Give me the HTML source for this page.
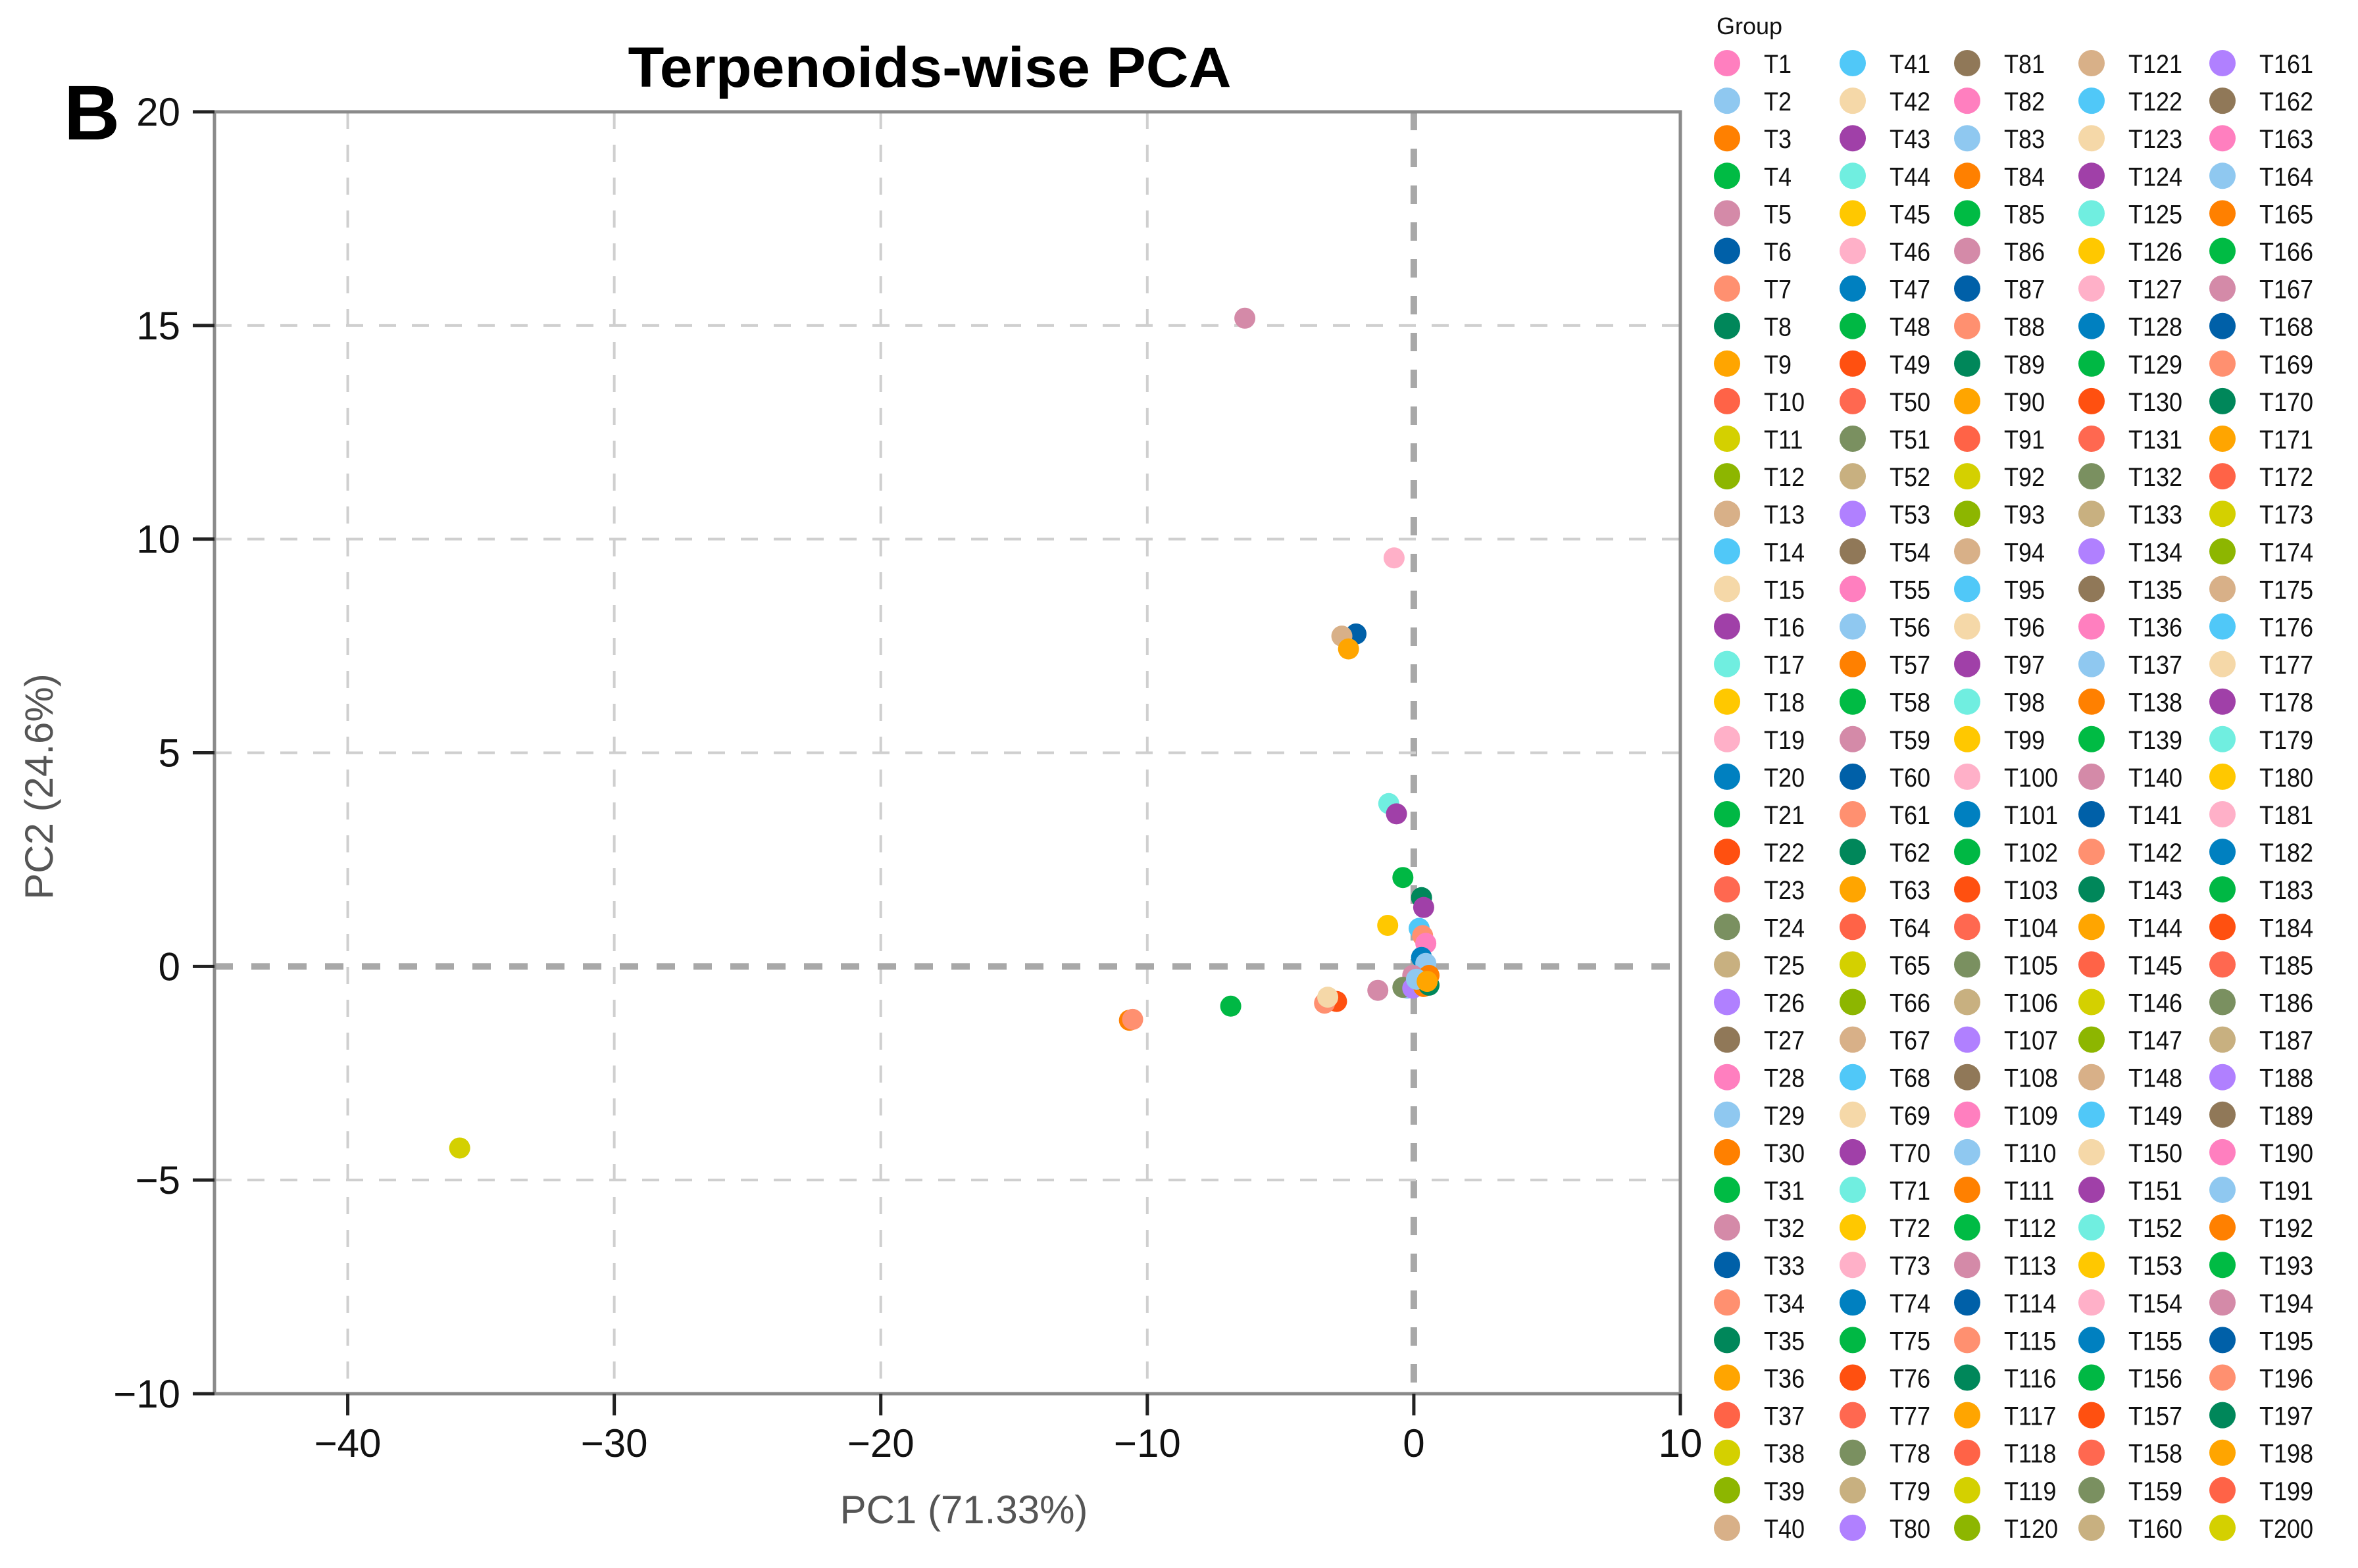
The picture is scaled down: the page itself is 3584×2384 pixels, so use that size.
<!DOCTYPE html>
<html><head><meta charset="utf-8"><style>
html,body{margin:0;padding:0;background:#fff;}
svg{display:block;}
</style></head><body>
<svg id="chart" xmlns="http://www.w3.org/2000/svg" width="3584" height="2384" viewBox="0 0 3584 2384">
<rect x="0" y="0" width="3584" height="2384" fill="#fff"/>
<g id="grid"></g>
<g id="axes"></g>
<g id="points"></g>
<g id="legend"></g>
<text x="97" y="212" font-family="Liberation Sans, sans-serif" font-weight="bold" font-size="118" fill="#000">B</text>
<text x="1413" y="132" text-anchor="middle" textLength="917" lengthAdjust="spacingAndGlyphs" font-family="Liberation Sans, sans-serif" font-weight="bold" font-size="86" fill="#000">Terpenoids-wise PCA</text>
<text x="1465" y="2342" text-anchor="middle" font-family="Liberation Sans, sans-serif" font-size="60" fill="#555" transform="translate(0,-26)">PC1 (71.33%)</text>
<text transform="translate(80,1196) rotate(-90)" text-anchor="middle" font-family="Liberation Sans, sans-serif" font-size="60" fill="#555">PC2 (24.6%)</text>
</svg>
<script>
const xTicks = [-40, -30, -20, -10, 0, 10];
const yTicks = [-10, -5, 0, 5, 10, 15, 20];
const ptX = [-35.8, -6.34, -0.74, -2.17, -2.7, -2.45, -0.94, -0.65, -0.41, 0.29, 0.37, -0.98, 0.2, 0.33, 0.45, 0.29, 0.45, -0.04, -0.25, -0.41, -0.04, 0.37, 0.57, 0.57, -1.35, -2.9, -3.35, -3.23, -6.87, -10.67, -10.55, 0.1, 0.5];
const ptY = [-4.25, 15.17, 9.56, 7.78, 7.73, 7.43, 3.81, 3.57, 2.08, 1.61, 1.38, 0.96, 0.89, 0.72, 0.54, 0.21, 0.07, -0.21, -0.51, -0.49, -0.51, -0.47, -0.44, -0.21, -0.56, -0.82, -0.86, -0.72, -0.93, -1.26, -1.24, -0.3, -0.35];
const ptColor = ["#d4d000", "#d48aa8", "#ffb0c8", "#0060a8", "#d8b088", "#ffa500", "#70eee0", "#a040a8", "#00b844", "#00875a", "#a040a8", "#ffc800", "#50c8f8", "#ff9070", "#ff7fbf", "#0080c0", "#8fc8f0", "#d48aa8", "#8fc8f0", "#7a9060", "#b080ff", "#ff8000", "#00875a", "#ff8000", "#d48aa8", "#ff5010", "#ff9070", "#f5d8a8", "#00b844", "#ff8000", "#ff9070", "#8fc8f0", "#ffa500"];
const palette = ["#ff7fbf","#8fc8f0","#ff8000","#00bb44","#d48aa8","#0060a8","#ff9070","#00875a","#ffa500","#ff6347","#d4d000","#8db600","#d8b088","#50c8f8","#f5d8a8","#a040a8","#70eee0","#ffc800","#ffb0c8","#0080c0","#00b844","#ff5010","#ff6850","#7a9060","#c8b080","#b080ff","#907858"];

const NS = "http://www.w3.org/2000/svg";
const X0 = 326, X1 = 2554, Y0 = 170, Y1 = 2119;
const xMin = -45, xMax = 10, yMin = -10, yMax = 20;
function sx(v){ return X0 + (v - xMin) / (xMax - xMin) * (X1 - X0); }
function sy(v){ return Y1 - (v - yMin) / (yMax - yMin) * (Y1 - Y0); }
function mk(tag, attrs, parent){ const e = document.createElementNS(NS, tag); for (const k in attrs) e.setAttribute(k, attrs[k]); parent.appendChild(e); return e; }

const grid = document.getElementById('grid');
xTicks.forEach(t => {
  if (t <= xMin || t >= xMax) return;
  const isZero = t === 0;
  const l = mk('line', {x1: sx(t), x2: sx(t), y1: Y0, y2: Y1, stroke: isZero ? '#a8a8a8' : '#cfcfcf', 'stroke-width': isZero ? 10 : 4, 'stroke-dasharray': isZero ? '28 28' : '26 24'}, grid);
  
  
});
yTicks.forEach(t => {
  if (t <= yMin || t >= yMax) return;
  const isZero = t === 0;
  const l = mk('line', {x1: X0, x2: X1, y1: sy(t), y2: sy(t), stroke: isZero ? '#a8a8a8' : '#cfcfcf', 'stroke-width': isZero ? 10 : 4, 'stroke-dasharray': isZero ? '28 28' : '26 24'}, grid);
  
  
});

const axes = document.getElementById('axes');
const box = mk('rect', {x: X0, y: Y0, width: X1 - X0, height: Y1 - Y0, fill: 'none', stroke: '#8a8a8a', 'stroke-width': 5}, axes);


xTicks.forEach(t => {
  const tk = mk('line', {x1: sx(t), x2: sx(t), y1: Y1, y2: Y1 + 33, stroke: '#222', 'stroke-width': 5}, axes);
  
  
  const lb = mk('text', {x: sx(t), y: Y1 + 96, 'text-anchor': 'middle', 'font-family': 'Liberation Sans, sans-serif', 'font-size': 60, fill: '#111'}, axes);
  lb.textContent = t < 0 ? '\u2212' + Math.abs(t) : String(t);
  
  
});
yTicks.forEach(t => {
  const tk = mk('line', {x1: X0 - 33, x2: X0, y1: sy(t), y2: sy(t), stroke: '#222', 'stroke-width': 5}, axes);
  
  
  const lb = mk('text', {x: 274, y: sy(t) + 21, 'text-anchor': 'end', 'font-family': 'Liberation Sans, sans-serif', 'font-size': 60, fill: '#111'}, axes);
  lb.textContent = t < 0 ? '\u2212' + Math.abs(t) : String(t);
  
  
});

const pts = document.getElementById('points');
ptX.forEach((v, i) => {
  const c = mk('circle', {cx: sx(v), cy: sy(ptY[i]), r: 16, fill: ptColor[i]}, pts);
  
  
});

const leg = document.getElementById('legend');
const gt = mk('text', {x: 2609, y: 52, 'font-family': 'Liberation Sans, sans-serif', 'font-size': 36, fill: '#111'}, leg);
gt.textContent = 'Group';


const colX = [2625, 2816, 2990, 3179, 3378];
for (let i = 0; i < 200; i++) {
  const col = Math.floor(i / 40), row = i % 40;
  const cx = colX[col], cy = 96 + row * 57.1;
  const c = mk('circle', {cx: cx, cy: cy, r: 20, fill: palette[i % 27]}, leg);
  
  
  const t = mk('text', {x: cx + 56, y: cy + 15, 'font-family': 'Liberation Sans, sans-serif', 'font-size': 40, fill: '#111', transform: 'translate(' + (cx + 56) + ',0) scale(0.9,1) translate(' + (-(cx + 56)) + ',0)'}, leg);
  t.textContent = 'T' + (i + 1);
  
  
}
</script>
</body></html>
